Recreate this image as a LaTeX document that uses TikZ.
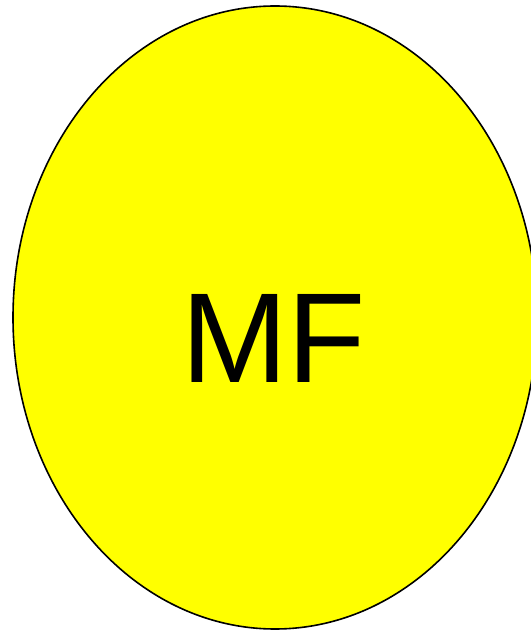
\documentclass[tikz,border=0pt]{standalone}
\usepackage{fontspec}
\setmainfont{Liberation Sans}
\usepackage{tikz}
\definecolor{mfyellow}{RGB}{255,255,0}

\begin{document}
\begin{tikzpicture}[x=1pt,y=1pt]
  \useasboundingbox (0,0) rectangle (531,633);
  \draw[line width=1.6pt,fill=mfyellow] (275,315.5) ellipse [x radius=262,y radius=311.5];
  \node[inner sep=0pt,font=\fontsize{128}{128}\selectfont] (mf) at (273.5,294.5) {MF};
\end{tikzpicture}
\end{document}
